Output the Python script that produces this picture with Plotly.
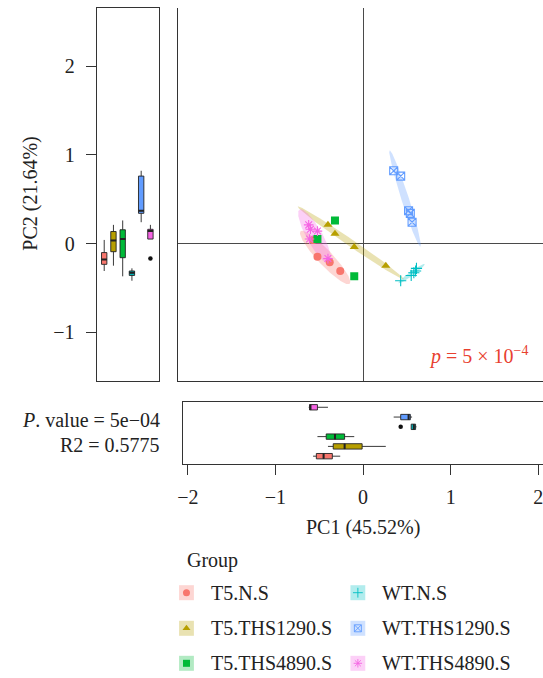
import numpy as np
import plotly.graph_objects as go

# ---- data -------------------------------------------------------------
groups = ["T5.N.S", "T5.THS1290.S", "T5.THS4890.S",
          "WT.N.S", "WT.THS1290.S", "WT.THS4890.S"]
colors = ["#F8766D", "#B79F00", "#00BA38", "#00BFC4", "#619CFF", "#F564E3"]
symbols = ["circle", "triangle-up", "square", "cross-thin-open",
           "square-x-open", "asterisk-open"]

t5_ns_pc1 = [-0.57, -0.52, -0.38, -0.26]
t5_ns_pc2 = [0.04, -0.15, -0.21, -0.31]
t5_ths1290_pc1 = [-0.40, -0.32, -0.10, 0.26]
t5_ths1290_pc2 = [0.21, 0.11, -0.04, -0.25]
t5_ths4890_pc1 = [-0.32, -0.52, -0.10]
t5_ths4890_pc2 = [0.26, 0.05, -0.37]
wt_ns_pc1 = [0.43, 0.55, 0.58, 0.60, 0.61]
wt_ns_pc2 = [-0.42, -0.36, -0.33, -0.31, -0.28]
wt_ths1290_pc1 = [0.35, 0.43, 0.52, 0.54, 0.56]
wt_ths1290_pc2 = [0.82, 0.76, 0.37, 0.34, 0.24]
wt_ths4890_pc1 = [-0.62, -0.60, -0.61, -0.52, -0.40]
wt_ths4890_pc2 = [0.21, 0.16, 0.05, 0.14, -0.17]

pc1_all = [t5_ns_pc1, t5_ths1290_pc1, t5_ths4890_pc1,
           wt_ns_pc1, wt_ths1290_pc1, wt_ths4890_pc1]
pc2_all = [t5_ns_pc2, t5_ths1290_pc2, t5_ths4890_pc2,
           wt_ns_pc2, wt_ths1290_pc2, wt_ths4890_pc2]

pc1_title = "PC1 (45.52%)"
pc2_title = "PC2 (21.64%)"
adonis_p = "5e\u221204"
adonis_r2 = "0.5775"

# ---- layout geometry (pixels) ----------------------------------------
W, H = 543, 678
FONT = "Liberation Serif"
INK = "#222222"


def fx(p):
    return p / W


def fy(p):
    return 1 - p / H


def rgba(hex_col, a):
    h = hex_col.lstrip("#")
    r, g, b = int(h[0:2], 16), int(h[2:4], 16), int(h[4:6], 16)
    return f"rgba({r},{g},{b},{a})"


def box_stats(vals):
    v = np.sort(np.asarray(vals, float))
    q1, med, q3 = np.percentile(v, [25, 50, 75])
    iqr = q3 - q1
    lo_lim, hi_lim = q1 - 1.5 * iqr, q3 + 1.5 * iqr
    inside = v[(v >= lo_lim) & (v <= hi_lim)]
    out = v[(v < lo_lim) | (v > hi_lim)]
    return (float(q1), float(med), float(q3), float(inside.min()),
            float(inside.max()), [float(o) for o in out])


def ellipse(xs, ys, k=2.05, n=120):
    pts = np.column_stack([xs, ys])
    c = pts.mean(axis=0)
    cov = np.cov(pts, rowvar=False)
    w, v = np.linalg.eigh(cov)
    w = np.clip(w, 0, None)
    t = np.linspace(0, 2 * np.pi, n)
    circ = np.vstack([np.cos(t), np.sin(t)])
    e = (v @ np.diag(np.sqrt(w)) @ circ) * k
    return (c[0] + e[0]).tolist(), (c[1] + e[1]).tolist()


fig = go.Figure()

# ---- main scatter: ellipses then points ------------------------------
for g, col, x, y in zip(groups, colors, pc1_all, pc2_all):
    if len(x) >= 4:
        ex, ey = ellipse(x, y)
        fig.add_trace(go.Scatter(x=ex, y=ey, mode="lines", fill="toself",
                                 fillcolor=rgba(col, 0.3), line=dict(width=0),
                                 hoverinfo="skip", showlegend=False,
                                 xaxis="x", yaxis="y"))
for g, col, sym, x, y in zip(groups, colors, symbols, pc1_all, pc2_all):
    open_sym = sym.endswith("open")
    fig.add_trace(go.Scatter(
        x=x, y=y, mode="markers", name=g, showlegend=False,
        marker=dict(symbol=sym, color=col, size=8,
                    line=dict(color=col, width=1.1 if open_sym else 0)),
        xaxis="x", yaxis="y"))

# ---- marginal boxplots -----------------------------------------------
positions = list(range(1, len(groups) + 1))
VW, HW = 0.58, 0.55
for pos, col, x, y in zip(positions, colors, pc1_all, pc2_all):
    # PC2 boxes (left panel, vertical)
    q1, med, q3, lo, hi, out = box_stats(y)
    fig.add_trace(go.Box(x=[pos], q1=[q1], median=[med], q3=[q3],
                         lowerfence=[lo], upperfence=[hi], width=VW,
                         fillcolor=col, line=dict(color=INK, width=0.9),
                         whiskerwidth=0, boxpoints=False, showlegend=False,
                         xaxis="x2", yaxis="y2"))
    fig.add_trace(go.Scatter(x=[pos - VW / 2, pos + VW / 2], y=[med, med],
                             mode="lines", line=dict(color=INK, width=2),
                             hoverinfo="skip", showlegend=False,
                             xaxis="x2", yaxis="y2"))
    if out:
        fig.add_trace(go.Scatter(x=[pos] * len(out), y=out, mode="markers",
                                 marker=dict(color="#111", size=4.5),
                                 showlegend=False, xaxis="x2", yaxis="y2"))
    # PC1 boxes (bottom panel, horizontal)
    q1, med, q3, lo, hi, out = box_stats(x)
    fig.add_trace(go.Box(y=[pos], q1=[q1], median=[med], q3=[q3],
                         lowerfence=[lo], upperfence=[hi], width=HW,
                         orientation="h",
                         fillcolor=col, line=dict(color=INK, width=0.9),
                         whiskerwidth=0, boxpoints=False, showlegend=False,
                         xaxis="x3", yaxis="y3"))
    fig.add_trace(go.Scatter(x=[med, med], y=[pos - HW / 2, pos + HW / 2],
                             mode="lines", line=dict(color=INK, width=2),
                             hoverinfo="skip", showlegend=False,
                             xaxis="x3", yaxis="y3"))
    if out:
        fig.add_trace(go.Scatter(x=out, y=[pos] * len(out), mode="markers",
                                 marker=dict(color="#111", size=4.5),
                                 showlegend=False, xaxis="x3", yaxis="y3"))

# ---- hand-built legend ------------------------------------------------
LEG_TOP = 540
leg_rows = [592.7, 628.3, 663.3]
leg_cols = [182.5, 355.8]
leg_text_dx = 22.5
annotations = []
shapes = []
for i, (g, col, sym) in enumerate(zip(groups, colors, symbols)):
    cx = leg_cols[i // 3]
    cy = leg_rows[i % 3]
    shapes.append(dict(type="rect", xref="paper", yref="paper",
                       x0=fx(cx - 7.5), x1=fx(cx + 7.5),
                       y0=fy(cy + 7.5), y1=fy(cy - 7.5),
                       fillcolor=rgba(col, 0.3), line=dict(width=0)))
    open_sym = sym.endswith("open")
    fig.add_trace(go.Scatter(
        x=[cx], y=[cy], mode="markers", showlegend=False, hoverinfo="skip",
        marker=dict(symbol=sym, color=col, size=7,
                    line=dict(color=col, width=0.9 if open_sym else 0)),
        xaxis="x4", yaxis="y4"))
    annotations.append(dict(text=g, xref="paper", yref="paper",
                            x=fx(cx + leg_text_dx), y=fy(cy),
                            xanchor="left", yanchor="middle", showarrow=False,
                            font=dict(family=FONT, size=20, color=INK)))
annotations.append(dict(text="Group", xref="paper", yref="paper",
                        x=fx(181), y=fy(560), xanchor="left",
                        yanchor="middle", showarrow=False,
                        font=dict(family=FONT, size=20, color=INK)))

# ---- titles and statistics -------------------------------------------
annotations += [
    dict(text=pc2_title, xref="paper", yref="paper", x=fx(25), y=fy(194),
         textangle=-90, showarrow=False, xanchor="center", yanchor="middle",
         font=dict(family=FONT, size=20, color=INK)),
    dict(text=pc1_title, xref="paper", yref="paper", x=fx(361), y=fy(527),
         showarrow=False, xanchor="center", yanchor="middle",
         font=dict(family=FONT, size=20, color=INK)),
    dict(text=f"<i>P</i>. value = {adonis_p}", xref="paper", yref="paper",
         x=fx(158), y=fy(420), showarrow=False, xanchor="right",
         yanchor="middle", font=dict(family=FONT, size=20, color=INK)),
    dict(text=f"R2 = {adonis_r2}", xref="paper", yref="paper",
         x=fx(158), y=fy(445), showarrow=False, xanchor="right",
         yanchor="middle", font=dict(family=FONT, size=20, color=INK)),
    dict(text="<i>p</i> = 5 \u00d7 10<sup>\u22124</sup>", xref="paper",
         yref="paper", x=fx(530), y=fy(355), showarrow=False,
         xanchor="right", yanchor="middle",
         font=dict(family=FONT, size=20, color="#E8402F")),
]

# ---- axes -------------------------------------------------------------
x0_px, ppu_x = 361.0, 88.6
y0_px, ppu_y = 243.5, 88.7
main_xr = [(174.3 - x0_px) / ppu_x, (W - x0_px) / ppu_x]
main_yr = [(y0_px - 380.7) / ppu_y, (y0_px - 7.7) / ppu_y]
bot_xr = [(179.3 - x0_px) / ppu_x, (W - x0_px) / ppu_x]
top_dom = [fy(380.7), fy(7.7)]
tickfont = dict(family=FONT, size=20, color=INK)
line_col = "#333333"

fig.update_layout(
    width=W, height=H, margin=dict(l=0, r=0, t=0, b=0),
    paper_bgcolor="white", plot_bgcolor="rgba(0,0,0,0)", showlegend=False,
    font=dict(family=FONT, size=20, color=INK),
    xaxis=dict(domain=[fx(174.3), 1], range=main_xr, showline=True,
               linecolor=line_col, linewidth=1.1, showticklabels=False,
               ticks="", showgrid=False, zeroline=True,
               zerolinecolor="#4a4a4a", zerolinewidth=1.2),
    yaxis=dict(domain=top_dom, range=main_yr, showline=True,
               linecolor=line_col, linewidth=1.1, showticklabels=False,
               ticks="", showgrid=False, zeroline=True,
               zerolinecolor="#4a4a4a", zerolinewidth=1.2),
    xaxis2=dict(domain=[fx(91.7), fx(155)], range=[0.186, 6.96],
                anchor="y2", showline=True, mirror=True, linecolor=line_col,
                linewidth=1.1, showticklabels=False, ticks="",
                showgrid=False, zeroline=False),
    yaxis2=dict(domain=top_dom, range=main_yr, anchor="x2", showline=True,
                mirror=True, linecolor=line_col, linewidth=1.1,
                tickvals=[-1, 0, 1, 2], ticks="outside", ticklen=10,
                tickcolor=line_col, tickfont=tickfont, ticklabelstandoff=7,
                showgrid=False, zeroline=False),
    xaxis3=dict(domain=[fx(179.3), 1], range=bot_xr, anchor="y3",
                showline=True, mirror=True, linecolor=line_col, linewidth=1.1,
                tickvals=[-2, -1, 0, 1, 2], ticks="outside", ticklen=10,
                tickcolor=line_col, tickfont=tickfont, ticklabelstandoff=5,
                ticklabeloverflow="allow",
                showgrid=False, zeroline=False),
    yaxis3=dict(domain=[fy(464.3), fy(401.7)], range=[0.17, 6.57],
                anchor="x3", showline=True, mirror=False, linecolor=line_col,
                linewidth=1.1, showticklabels=False, ticks="",
                showgrid=False, zeroline=False),
    xaxis4=dict(domain=[0, 1], range=[0, W], visible=False, anchor="y4",
                fixedrange=True),
    yaxis4=dict(domain=[0, fy(LEG_TOP)], range=[H, LEG_TOP], visible=False,
                anchor="x4", fixedrange=True),
    annotations=annotations, shapes=shapes,
)

fig.write_html("out.html")
